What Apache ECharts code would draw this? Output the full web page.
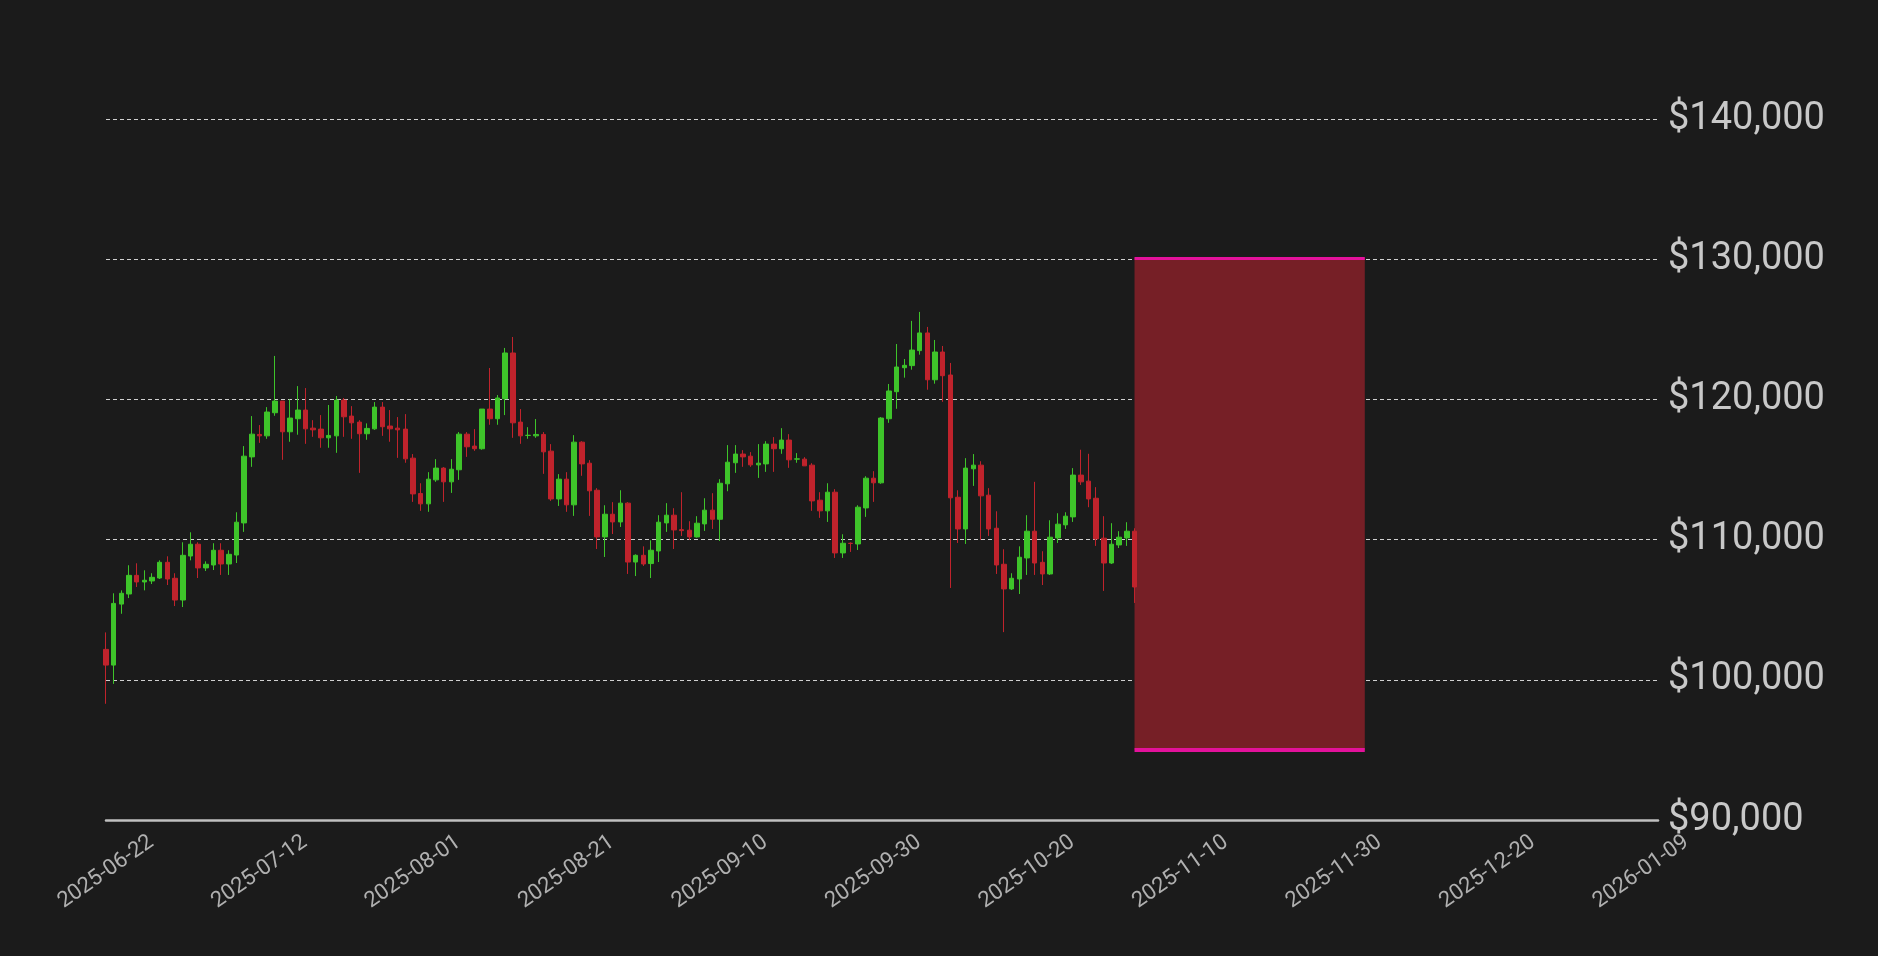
<!DOCTYPE html>
<html>
<head>
<meta charset="utf-8">
<script src="https://cdn.jsdelivr.net/npm/echarts@6/dist/echarts.min.js"></script>
<style>
  html, body { margin: 0; padding: 0; background: #1b1b1b; }
  #chart { width: 1878px; height: 956px; }
</style>
</head>
<body>
<div id="chart"></div>
<script>
// daily candles, first one on 2025-06-22
const startDate = '2025-06-22';
const opens = [
  102170, 101050, 105400, 106120, 107450, 106980, 107050, 107260, 108380, 107240,
  105690, 108830, 109670, 107980, 108190, 109240, 108260, 108900, 111190, 115900,
  117500, 117400, 119050, 119880, 117690, 118620, 119240, 117950, 117880, 117260,
  117400, 119950, 118810, 118380, 117550, 117900, 119450, 118100, 117950, 117880,
  115810, 113290, 112550, 114260, 115100, 114120, 114980, 117520, 116670, 116480,
  119310, 118620, 120050, 123310, 118380, 117430, 117400, 117500, 116310, 112900,
  114310, 112480, 116950, 115450, 113520, 110190, 111810, 111260, 112600, 108400,
  108880, 108290, 109190, 111190, 111740, 110710, 110670, 110190, 111120, 112100,
  111450, 113980, 115480, 116100, 115950, 115330, 115400, 116810, 116480, 117100,
  115740, 115740, 115310, 112810, 112050, 113380, 109050, 109740, 109690, 112260,
  114380, 114050, 118620, 120550, 122260, 122410, 123480, 124740, 121400, 123380,
  121740, 113020, 110760, 115050, 115310, 113170, 110810, 108240, 106480, 107190,
  108690, 110600, 108380, 107550, 110120, 111050, 111620, 114600, 114170, 112950,
  110100, 108330, 109620, 110120, 110600
];
const closes = [
  101050, 105450, 106170, 107450, 106980, 107100, 107310, 108380, 107190, 105690,
  108880, 109670, 107980, 108240, 109240, 108260, 108950, 111240, 115950, 117520,
  117400, 119100, 119880, 117690, 118670, 119240, 117900, 117830, 117260, 117430,
  119950, 118760, 118330, 117550, 117930, 119450, 118050, 117900, 117830, 115760,
  113260, 112550, 114310, 115100, 114120, 115020, 117520, 116620, 116480, 119310,
  118620, 120100, 123310, 118330, 117400, 117440, 117500, 116260, 112900, 114310,
  112480, 116950, 115400, 113480, 110190, 111810, 111260, 112600, 108400, 108880,
  108260, 109240, 111240, 111740, 110690, 110640, 110190, 111170, 112100, 111450,
  114020, 115520, 116100, 115900, 115330, 115450, 116810, 116480, 117100, 115690,
  115760, 115260, 112760, 112050, 113380, 109050, 109740, 109720, 112310, 114380,
  114050, 118670, 120600, 122310, 122430, 123520, 124740, 121400, 123380, 121690,
  112980, 110760, 115100, 115310, 113120, 110760, 108190, 106480, 107240, 108740,
  110600, 108330, 107550, 110170, 111100, 111670, 114600, 114120, 112900, 110050,
  108330, 109670, 110170, 110600, 106620
];
const lows = [
  98290, 99710, 104710, 105830, 106620, 106380, 106830, 107190, 106760, 105260,
  105190, 108520, 107260, 107760, 107830, 107480, 107480, 108330, 110550, 115190,
  116900, 117190, 118830, 115690, 116980, 117480, 116830, 117330, 116550, 116550,
  116190, 117330, 117190, 114760, 117120, 117830, 117400, 116980, 115830, 115480,
  112690, 112050, 111980, 114120, 112690, 113330, 114260, 115900, 116330, 116410,
  118190, 118190, 118880, 117260, 116830, 117190, 117260, 114690, 112760, 112400,
  111980, 111690, 114550, 111690, 109330, 108760, 110400, 110900, 107550, 107400,
  108120, 107260, 108400, 110550, 109330, 110260, 109980, 110140, 110620, 110760,
  109900, 113450, 114760, 115190, 115190, 114400, 114830, 114830, 116120, 115120,
  115480, 115260, 112050, 111550, 111260, 108690, 108690, 109120, 109260, 111620,
  112690, 113980, 118330, 119330, 121550, 122120, 123190, 120690, 121120, 119830,
  106550, 109760, 109690, 113830, 109980, 110260, 107550, 103400, 106410, 106120,
  107480, 107480, 106760, 107480, 109760, 110760, 111260, 113900, 112310, 109550,
  106340, 108260, 109400, 109550, 105480
];
const highs = [
  103380, 106170, 106380, 108170, 108310, 107810, 107600, 108520, 108810, 107600,
  109810, 110520, 109810, 108450, 109740, 109740, 109240, 111950, 116670, 118810,
  118170, 119450, 123100, 119880, 120000, 120950, 120810, 118520, 118880, 119600,
  120240, 120100, 119520, 118520, 118290, 119810, 119810, 119240, 118740, 118950,
  116100, 114020, 114810, 115740, 115170, 115740, 117670, 117670, 117880, 119310,
  122240, 120310, 123670, 124450, 119310, 118020, 118600, 117670, 116810, 114670,
  114810, 117450, 117020, 115670, 113670, 112450, 112670, 113520, 112670, 108950,
  109520, 109950, 111740, 112600, 112240, 113380, 111310, 111670, 112950, 113310,
  114310, 116740, 116740, 116380, 116240, 116810, 117020, 117310, 117950, 117520,
  116170, 115880, 115450, 113380, 114020, 113600, 110380, 109800, 112450, 114520,
  114880, 118740, 121100, 123950, 122880, 125600, 126240, 125170, 124240, 123810,
  122600, 113520, 115810, 116100, 115590, 113670, 112020, 109310, 107600, 109520,
  111740, 114120, 109170, 111380, 111880, 111950, 115100, 116410, 116120, 113740,
  111670, 111170, 110600, 111240, 110810
];
// x axis tick labels, one every 20 days from startDate
const tickLabels = [
  '2025-06-22', '2025-07-12', '2025-08-01', '2025-08-21', '2025-09-10', '2025-09-30',
  '2025-10-20', '2025-11-10', '2025-11-30', '2025-12-20', '2026-01-09'
];
// shaded target zone: day offsets and price range
const zoneDays = [134, 164];
const zonePrices = [95000, 130100];

const myChart = echarts.init(document.getElementById('chart'));

const candles = opens.map(function (o, i) {
  return [i, o, closes[i], lows[i], highs[i]];
});

const option = {
  backgroundColor: '#1b1b1b',
  animation: false,
  grid: { left: 106, right: 220, top: 119, bottom: 136 },
  xAxis: {
    type: 'value',
    min: 0,
    max: 202.2,
    interval: 20,
    axisLine: { show: true, onZero: false, lineStyle: { color: '#c0c0c0', width: 2.5 } },
    axisTick: { show: false },
    splitLine: { show: false },
    axisLabel: {
      rotate: 35,
      margin: 52,
      align: 'center',
      verticalAlign: 'middle',
      color: '#b0b0b0',
      fontFamily: 'Roboto',
      fontSize: 22,
      showMaxLabel: false,
      formatter: function (v) {
        const k = Math.round(v / 20);
        return Math.abs(v - k * 20) < 0.01 ? (tickLabels[k] || '') : '';
      }
    }
  },
  yAxis: {
    type: 'value',
    position: 'right',
    min: 90000,
    max: 140000,
    interval: 10000,
    axisLine: { show: false },
    axisTick: { show: false },
    splitLine: { show: true, lineStyle: { color: '#d0d0d0', type: [4, 3], width: 1 } },
    axisLabel: {
      margin: 10,
      color: '#c8c8c8',
      fontFamily: 'Roboto',
      fontSize: 38,
      padding: [8, 0, 0, 0],
      formatter: function (v) { return '$' + v.toLocaleString('en-US'); }
    }
  },
  series: [
    {
      type: 'candlestick',
      data: candles,
      encode: { x: 0, y: [1, 2, 3, 4] },
      barWidth: 5,
      itemStyle: {
        color: '#3ec42a',
        borderColor: '#3ec42a',
        color0: '#c0232c',
        borderColor0: '#c0232c',
        borderWidth: 1
      }
    },
    {
      type: 'line',
      data: [],
      z: 5,
      markArea: {
        silent: true,
        itemStyle: { color: '#761f26', opacity: 1 },
        data: [[
          { xAxis: zoneDays[0], yAxis: zonePrices[1] },
          { xAxis: zoneDays[1], yAxis: zonePrices[0] }
        ]]
      },
      markLine: {
        silent: true,
        symbol: 'none',
        label: { show: false },
        data: [
          [{ xAxis: zoneDays[0], yAxis: zonePrices[1], lineStyle: { color: '#e3129b', width: 3, type: 'solid' } },
           { xAxis: zoneDays[1], yAxis: zonePrices[1] }],
          [{ xAxis: zoneDays[0], yAxis: zonePrices[0], lineStyle: { color: '#e3129b', width: 4, type: 'solid' } },
           { xAxis: zoneDays[1], yAxis: zonePrices[0] }]
        ]
      }
    }
  ]
};
myChart.setOption(option);
window.addEventListener('resize', function () {
  setTimeout(function () {
    myChart.resize();
  }, 100);
});
</script>
</body>
</html>
